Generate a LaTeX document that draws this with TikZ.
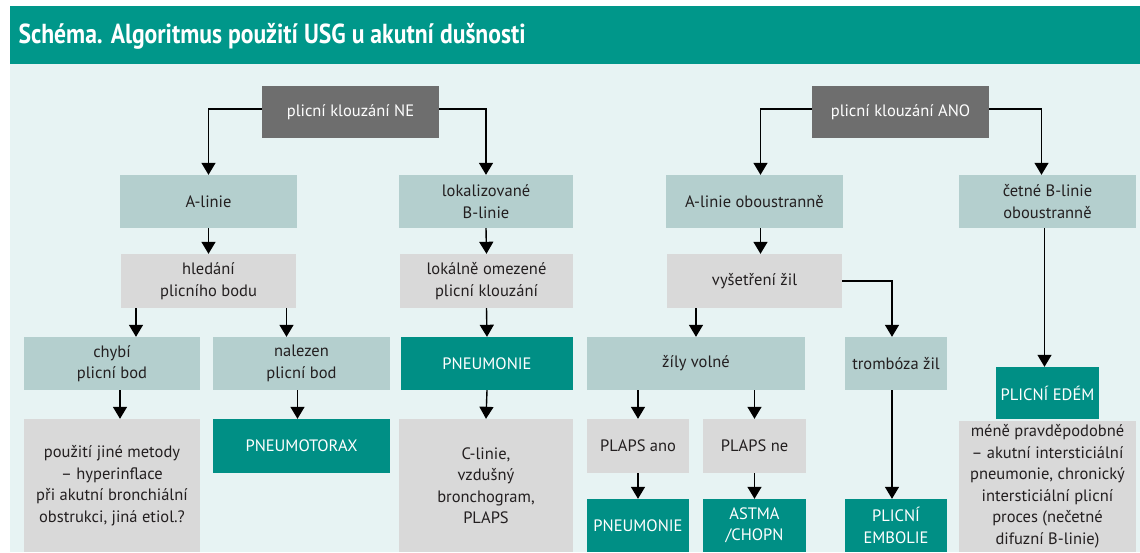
\documentclass[tikz,border=0pt]{standalone}
\usepackage{fontspec}
\setmainfont{PT Sans}
\newfontfamily\titlefont{PT Sans}[FakeStretch=0.86]
\usetikzlibrary{arrows.meta}
\definecolor{headteal}{HTML}{00978A}
\definecolor{resteal}{HTML}{008F85}
\definecolor{bglight}{HTML}{E7F3F3}
\definecolor{boxteal}{HTML}{B4CFCE}
\definecolor{boxgrey}{HTML}{D9D9D9}
\definecolor{boxdark}{HTML}{6E6E6E}
\definecolor{inkdark}{HTML}{231F20}
\tikzset{
  box/.style={inner sep=0pt, align=center, font=\fontsize{16.5}{21.5}\selectfont, text=inkdark},
  lbox/.style={box, fill=boxteal, minimum height=53pt},
  gbox/.style={box, fill=boxgrey},
  dbox/.style={box, fill=boxdark, text=white, minimum width=177pt, minimum height=52pt},
  rbox/.style={box, fill=resteal, text=white},
  arr/.style={line width=1.4pt, color=black, -{Triangle[width=14pt,length=12pt]}},
}

\begin{document}
\begin{tikzpicture}[x=1pt, y=-1pt]
		%%%%% START %%%%%
		\useasboundingbox (0, 0) rectangle (1140, 552);
		
		\fill[headteal] (10, 6) rectangle (1140, 64);
		\fill[bglight] (10, 64) rectangle (1140, 552);
		\node[anchor=west, text=white, font=\titlefont\bfseries\fontsize{27.5}{30}\selectfont] (title) at (15, 36) {Schéma. Algoritmus použití USG u akutní dušnosti};
		
		\node[dbox] (ne) at (350.5, 112) {plicní klouzání NE};
		\node[dbox] (ano) at (900.5, 112) {plicní klouzání ANO};
		
		\node[lbox, minimum width=177pt] (aline) at (208.5, 201.5) {A-linie};
		\node[lbox, minimum width=174pt] (lokb) at (486, 201.5) {lokalizované\\B-linie};
		\node[lbox, minimum width=177pt] (aobo) at (754.5, 201.5) {A-linie oboustranně};
		\node[lbox, minimum width=177pt] (cetne) at (1047.5, 201.5) {četné B-linie\\oboustranně};
		
		\node[gbox, minimum width=175pt, minimum height=54pt] (hled) at (208.5, 281) {hledání\\plicního bodu};
		\node[gbox, minimum width=173pt, minimum height=54pt] (lokom) at (486.5, 281) {lokálně omezené\\plicní klouzání};
		\node[gbox, minimum width=175pt, minimum height=54pt] (vys) at (754.5, 281) {vyšetření žil};
		
		\node[lbox, minimum width=176pt] (chybi) at (112, 363.5) {chybí\\plicní bod};
		\node[lbox, minimum width=177pt] (nalez) at (301.5, 363.5) {nalezen\\plicní bod};
		\node[rbox, minimum width=172pt, minimum height=53pt] (pneu) at (487, 363.5) {PNEUMONIE};
		\node[lbox, minimum width=218pt] (zily) at (696, 363.5) {žíly volné};
		\node[lbox, minimum width=102pt] (tromb) at (896, 363.5) {trombóza žil};
		\node[rbox, minimum width=103pt, minimum height=52pt] (edem) at (1047.5, 393) {PLICNÍ EDÉM};
		
		\node[gbox, minimum width=176pt, minimum height=133pt] (pouz) at (112, 485.5) {použití jiné metody\\– hyperinflace\\při akutní bronchiální\\obstrukci, jiná etiol.?};
		\node[rbox, minimum width=177pt, minimum height=54pt] (ptx) at (301.5, 446) {PNEUMOTORAX};
		\node[gbox, minimum width=174pt, minimum height=133pt] (clin) at (486, 485.5) {C-linie,\\vzdušný\\bronchogram,\\PLAPS};
		\node[gbox, minimum width=102pt, minimum height=54pt] (plapsa) at (638, 446) {PLAPS ano};
		\node[gbox, minimum width=103pt, minimum height=54pt] (plapsn) at (754.5, 446) {PLAPS ne};
		\node[gbox, minimum width=177pt, minimum height=131pt] (mene) at (1047.5, 486.5) {méně pravděpodobné\\– akutní intersticiální\\pneumonie, chronický\\intersticiální plicní\\proces (nečetné\\difuzní B-linie)};
		
		\node[rbox, minimum width=102pt, minimum height=53pt] (pneub) at (638, 525.5) {PNEUMONIE};
		\node[rbox, minimum width=103pt, minimum height=53pt] (astma) at (754.5, 525.5) {ASTMA\\/CHOPN};
		\node[rbox, minimum width=102pt, minimum height=53pt] (embol) at (896, 525.5) {PLICNÍ\\EMBOLIE};
		
		\draw[arr] ([yshift=3pt]ne.west) -| (aline.north);
		\draw[arr] ([yshift=3pt]ne.east) -| (lokb.north);
		\draw[arr] ([yshift=3pt]ano.west) -| ([xshift=6pt]aobo.north);
		\draw[arr] ([yshift=3pt]ano.east) -| ([xshift=-6pt]cetne.north);
		
		\draw[arr] (aline.south) -- (hled.north);
		\draw[arr] (lokb.south) -- (lokom.north);
		\draw[arr] ([xshift=6pt]aobo.south) -- ([xshift=6pt]vys.north);
		\draw[arr] ([xshift=-3pt]cetne.south) -- ([xshift=-3pt]edem.north);
		
		\draw[arr] ([xshift=24pt]chybi.north |- hled.south) -- ([xshift=24pt]chybi.north);
		\draw[arr] ([xshift=-15pt]nalez.north |- hled.south) -- ([xshift=-15pt]nalez.north);
		\draw[arr] (lokom.south) -- (pneu.north);
		\draw[arr] (vys.south -| zily.north) -- (zily.north);
		\draw[arr] (vys.east) -| ([xshift=-4pt]tromb.north);
		
		\draw[arr] ([xshift=8pt]chybi.south) -- ([xshift=8pt]pouz.north);
		\draw[arr] ([xshift=-4pt]nalez.south) -- ([xshift=-4pt]ptx.north);
		\draw[arr] (pneu.south) -- (clin.north);
		\draw[arr] (zily.south -| plapsa.north) -- (plapsa.north);
		\draw[arr] (zily.south -| plapsn.north) -- (plapsn.north);
		
		\draw[arr] (plapsa.south) -- (pneub.north);
		\draw[arr] (plapsn.south) -- (astma.north);
		\draw[arr] ([xshift=-4pt]tromb.south) -- ([xshift=-4pt]embol.north);
		
		%%%%% END %%%%%
	\end{tikzpicture}
\end{document}
